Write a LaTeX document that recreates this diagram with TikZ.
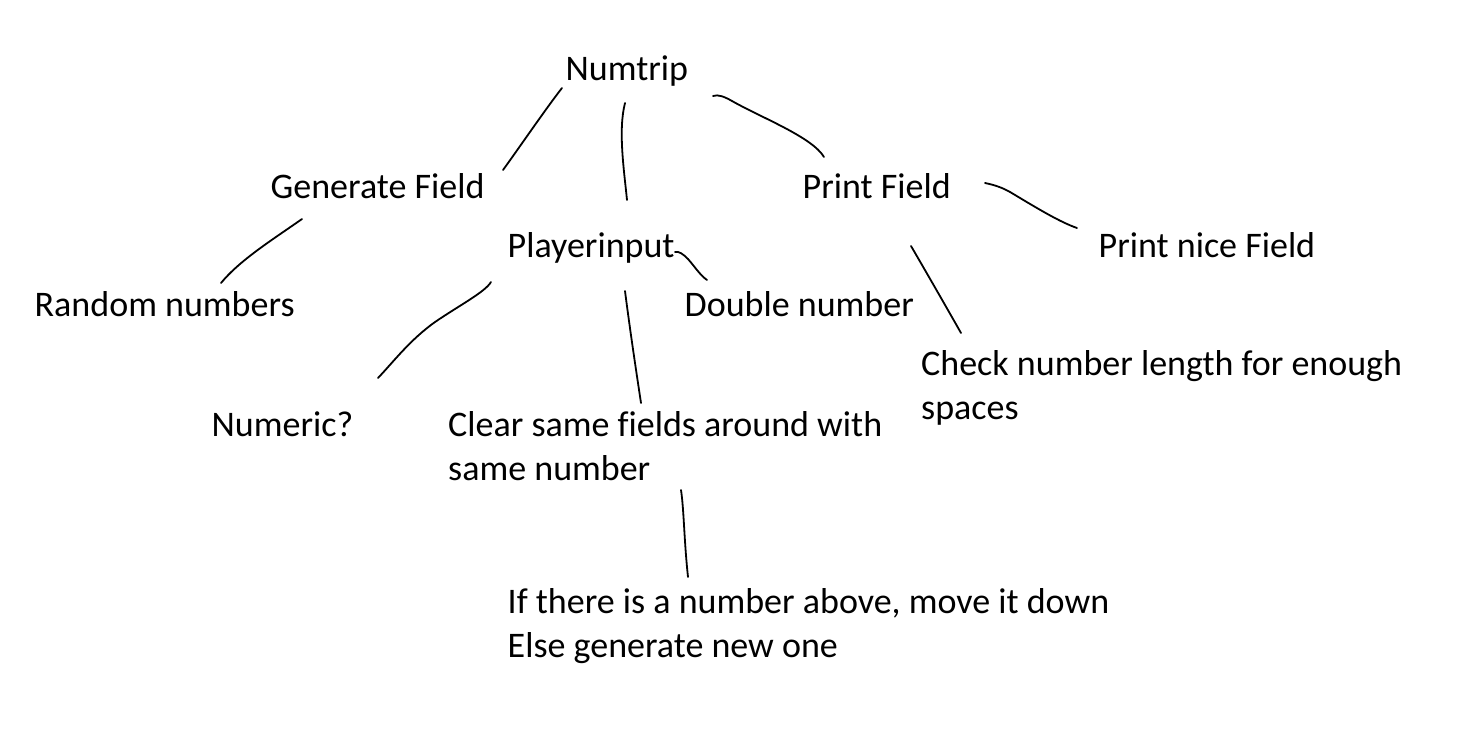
\documentclass[tikz,border=0pt]{standalone}
\usepackage{fontspec}
\setmainfont{Carlito}[Ligatures=NoCommon]
\tikzset{
  lbl/.style={anchor=base west, inner sep=0pt, font=\fontsize{36}{44}\selectfont},
  hand/.style={draw=black, line width=1.8pt, line cap=round, line join=round}
}
\newcommand{\twolines}[2]{\begin{tabular}[t]{@{}l@{}}#1\\#2\end{tabular}}
\begin{document}
\begin{tikzpicture}[x=1pt,y=-1pt]
\fill[white] (0,0) rectangle (1469,748);
\useasboundingbox (0,0) rectangle (1469,748);

\node[lbl] (num) at (565.5,80) {Numtrip};
\node[lbl] (gen) at (270.5,198) {Generate Field};
\node[lbl] (prt) at (802.5,198) {Print Field};
\node[lbl] (ply) at (507.5,257) {Playerinput};
\node[lbl] (nice) at (1098.5,257) {Print nice Field};
\node[lbl] (rnd) at (34.5,316) {Random numbers};
\node[lbl] (dbl) at (684.5,316) {Double number};
\node[lbl] (chk) at (921,375) {\twolines{Check number length for enough}{spaces}};
\node[lbl] (numq) at (211.5,436) {Numeric?};
\node[lbl] (clr) at (448,436) {\twolines{Clear same fields around with}{same number}};
\node[lbl] (ifx) at (507.5,613) {\twolines{If there is a number above, move it down}{Else generate new one}};

% free ends of the hand-drawn connectors
\coordinate (numA) at (562,88);   \coordinate (genA) at (503,170);
\coordinate (numB) at (625,103);  \coordinate (plyA) at (627,200);
\coordinate (numC) at (713,96);   \coordinate (prtA) at (824,157);
\coordinate (genB) at (302,219);  \coordinate (rndA) at (221,283);
\coordinate (plyB) at (675,252);  \coordinate (dblA) at (707,280);
\coordinate (prtB) at (985,183);  \coordinate (niceA) at (1077,228);
\coordinate (prtC) at (911,246);  \coordinate (chkA) at (961,333);
\coordinate (plyC) at (491,282);  \coordinate (numqA) at (378,378);
\coordinate (plyD) at (625,291);  \coordinate (clrA) at (641,403);
\coordinate (clrB) at (681,490);  \coordinate (ifxA) at (688,577);

\draw[hand] (numA) .. controls (547,107) and (519,148) .. (genA);
\draw[hand] (numB) .. controls (618,130) and (624,170) .. (plyA);
\draw[hand] (numC) .. controls (718,94) and (725,97) .. (732,101)
                   .. controls (762,118) and (812,137) .. (prtA);
\draw[hand] (genB) .. controls (272,240) and (240,260) .. (rndA);
\draw[hand] (plyB) .. controls (679,251) and (683,254) .. (688,259)
                   .. controls (695,267) and (700,275) .. (dblA);
\draw[hand] (prtB) .. controls (995,185) and (1003,188) .. (1010,192)
                   .. controls (1040,210) and (1060,222) .. (niceA);
\draw[hand] (prtC) .. controls (925,270) and (948,310) .. (chkA);
\draw[hand] (plyC) .. controls (485,292) and (460,305) .. (435,322)
                   .. controls (410,340) and (395,360) .. (numqA);
\draw[hand] (plyD) .. controls (630,330) and (636,370) .. (clrA);
\draw[hand] (clrB) .. controls (684,510) and (684,540) .. (ifxA);
\end{tikzpicture}
\end{document}
